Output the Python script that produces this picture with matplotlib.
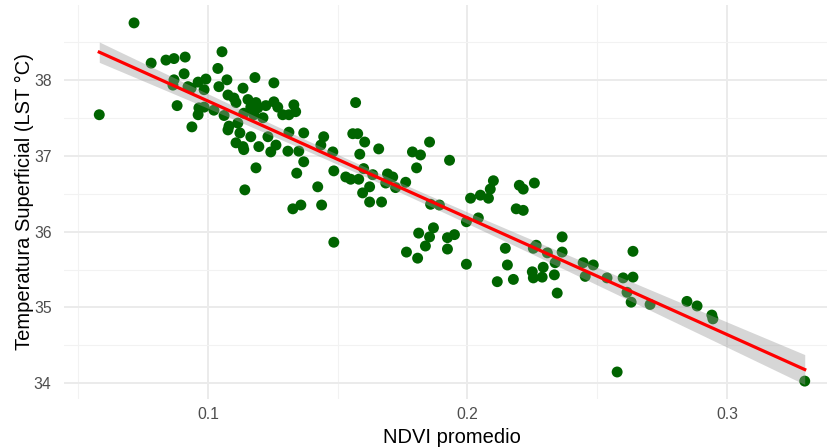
import matplotlib
matplotlib.use("Agg")
import matplotlib.pyplot as plt
import numpy as np
from matplotlib.ticker import MultipleLocator

plt.rcParams['font.family'] = ['Liberation Sans', 'DejaVu Sans']

# NDVI promedio
ndvi = [0.0581, 0.0715, 0.0781, 0.0838, 0.0869, 0.0912, 0.0908, 0.0869, 0.0865, 0.0923,
        0.0962, 0.0992, 0.0985, 0.0881, 0.0965, 0.0962, 0.0938, 0.0935,
        0.1054, 0.1038, 0.1073, 0.1181, 0.1254, 0.1042, 0.1135, 0.1077, 0.1100, 0.1108,
        0.1154, 0.1185, 0.1165, 0.1192, 0.1254, 0.1269, 0.1223, 0.1331, 0.1338, 0.1312,
        0.1288, 0.1023, 0.1062, 0.1138, 0.1177, 0.1212, 0.1081, 0.1115, 0.1123, 0.1165,
        0.1231, 0.1312, 0.1369, 0.1446, 0.0985,
        0.1077, 0.1108, 0.1135, 0.1138, 0.1196, 0.1242, 0.1262, 0.1308, 0.1350, 0.1435,
        0.1481, 0.1369, 0.1185, 0.1342, 0.1485, 0.1142, 0.1423, 0.1358, 0.1327, 0.1438,
        0.1485,
        0.1569, 0.1558, 0.1577, 0.1604, 0.1585, 0.1658, 0.1788, 0.1819, 0.1854, 0.1931,
        0.1531, 0.1550, 0.1581, 0.1600, 0.1635, 0.1692, 0.1712, 0.1685, 0.1723, 0.1762,
        0.1804, 0.1596, 0.1623, 0.1623, 0.1669, 0.1858, 0.1892, 0.2012,
        0.1812, 0.1869, 0.1854, 0.1838, 0.1765, 0.1808, 0.1923, 0.1950, 0.1923, 0.1996,
        0.1996,
        0.2100, 0.2088, 0.2081, 0.2050, 0.2200, 0.2215, 0.2258, 0.2188, 0.2215, 0.2042,
        0.2365, 0.2146, 0.2254, 0.2265, 0.2308, 0.2365, 0.2154, 0.2292, 0.2338, 0.2446,
        0.2485,
        0.2115, 0.2177, 0.2250, 0.2254, 0.2288, 0.2335, 0.2346, 0.2454,
        0.2538, 0.2600, 0.2638, 0.2638, 0.2615, 0.2631, 0.2704, 0.2846, 0.2885, 0.2942,
        0.2946, 0.2577, 0.3300]

# Temperatura superficial LST (°C)
lst = [37.54, 38.75, 38.22, 38.26, 38.28, 38.30, 38.08, 38.00, 37.93, 37.91,
       37.97, 38.01, 37.87, 37.66, 37.63, 37.54, 37.38, 37.89,
       38.37, 38.15, 38.00, 38.03, 37.96, 37.91, 37.89, 37.80, 37.76, 37.70,
       37.74, 37.70, 37.64, 37.63, 37.71, 37.64, 37.66, 37.67, 37.58, 37.54,
       37.54, 37.60, 37.53, 37.56, 37.54, 37.50, 37.39, 37.43, 37.30, 37.25,
       37.25, 37.31, 37.30, 37.25, 37.64,
       37.34, 37.17, 37.12, 37.08, 37.12, 37.05, 37.14, 37.06, 37.06, 37.14,
       37.05, 36.92, 36.84, 36.77, 36.80, 36.55, 36.59, 36.35, 36.30, 36.35,
       35.86,
       37.70, 37.29, 37.29, 37.18, 37.02, 37.09, 37.05, 37.01, 37.18, 36.94,
       36.72, 36.69, 36.69, 36.83, 36.75, 36.76, 36.72, 36.64, 36.58, 36.65,
       36.84, 36.51, 36.59, 36.39, 36.39, 36.36, 36.35, 36.44,
       35.98, 36.05, 35.93, 35.81, 35.73, 35.65, 35.92, 35.96, 35.77, 35.57,
       36.13,
       36.67, 36.56, 36.44, 36.48, 36.61, 36.56, 36.64, 36.30, 36.28, 36.18,
       35.93, 35.78, 35.78, 35.82, 35.72, 35.73, 35.56, 35.53, 35.59, 35.59,
       35.56,
       35.34, 35.37, 35.47, 35.39, 35.40, 35.43, 35.19, 35.41,
       35.39, 35.39, 35.40, 35.74, 35.20, 35.07, 35.04, 35.08, 35.02, 34.90,
       34.85, 34.15, 34.03]

x = np.array(ndvi)
y = np.array(lst)

# ajuste lineal + intervalo de confianza 95% (como geom_smooth(method="lm"))
n = len(x)
b1, b0 = np.polyfit(x, y, 1)
xs = np.linspace(x.min(), x.max(), 200)
ys = b0 + b1 * xs
resid = y - (b0 + b1 * x)
s = np.sqrt(np.sum(resid ** 2) / (n - 2))
se = s * np.sqrt(1.0 / n + (xs - x.mean()) ** 2 / np.sum((x - x.mean()) ** 2))
t = 1.975
lo = ys - t * se
hi = ys + t * se

fig = plt.figure(figsize=(8.28, 4.48), dpi=100)
ax = fig.add_axes([64 / 828, 49 / 448, 776 / 828, 394 / 448])

ax.scatter(x, y, s=62, color='#006400', edgecolors='none', zorder=3)
ax.fill_between(xs, lo, hi, color='#999999', alpha=0.4, linewidth=0, zorder=4)
ax.plot(xs, ys, color='red', linewidth=2.3, zorder=5)

# limites con expansion del 5% estilo ggplot
dx = (x.max() - x.min()) * 0.05
dy = (y.max() - y.min()) * 0.05
ax.set_xlim(x.min() - dx, x.max() + dx)
ax.set_ylim(y.min() - dy, y.max() + dy)

ax.xaxis.set_minor_locator(MultipleLocator(0.05))
ax.yaxis.set_minor_locator(MultipleLocator(0.5))
ax.set_xticks([0.1, 0.2, 0.3])
ax.set_xticklabels(['0.1', '0.2', '0.3'])
ax.set_yticks([34, 35, 36, 37, 38])

ax.grid(which='major', color='#EBEBEB', linewidth=1.4, zorder=0)
ax.grid(which='minor', color='#F2F2F2', linewidth=0.8, zorder=0)
ax.set_axisbelow(True)
for sp in ax.spines.values():
    sp.set_visible(False)
ax.tick_params(which='both', length=0)
ax.tick_params(axis='x', labelsize=11.3, labelcolor='#4D4D4D', pad=6)
ax.tick_params(axis='y', labelsize=11.3, labelcolor='#4D4D4D', pad=9)

ax.set_xlabel('NDVI promedio', fontsize=14.5, labelpad=4)
ax.set_ylabel('Temperatura Superficial (LST °C)', fontsize=14.5, labelpad=0)

fig.savefig('out.png', dpi=100)
